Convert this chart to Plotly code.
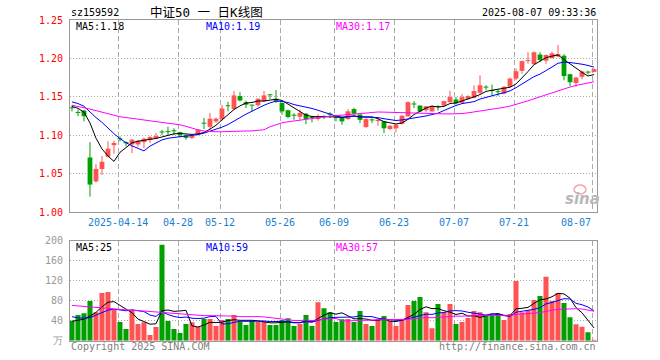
import plotly.graph_objects as go
import pandas as pd

# ---------------- data ----------------
open_ = [1.136, 1.130, 1.132, 1.071, 1.040, 1.056, 1.072, 1.087, 1.096, 1.091,
         1.088, 1.088, 1.091, 1.094, 1.096, 1.104, 1.1045, 1.1055, 1.104, 1.100,
         1.0965, 1.1015, 1.116, 1.111, 1.118, 1.121, 1.138, 1.134, 1.151, 1.143,
         1.139, 1.139, 1.144, 1.1525, 1.1475, 1.142, 1.1325, 1.126, 1.124, 1.128,
         1.1228, 1.121, 1.124, 1.1272, 1.1228, 1.1224, 1.121, 1.134, 1.127, 1.1105,
         1.1197, 1.1185, 1.118, 1.108, 1.109, 1.115, 1.1246, 1.1405, 1.1386, 1.1325,
         1.131, 1.1372, 1.1386, 1.143, 1.1465, 1.142, 1.1474, 1.1487, 1.1553, 1.1625,
         1.158, 1.1565, 1.1544, 1.163, 1.1737, 1.1838, 1.1965, 1.1925, 1.205, 1.197,
         1.2004, 1.2026, 1.2035, 1.1794, 1.168, 1.176, 1.182, 1.1825]
high = [1.139, 1.1334, 1.133, 1.091, 1.0627, 1.0728, 1.092, 1.0928, 1.0985, 1.092,
        1.095, 1.094, 1.0965, 1.099, 1.1029, 1.107, 1.111, 1.109, 1.1045, 1.101,
        1.1005, 1.1075, 1.1224, 1.129, 1.123, 1.1395, 1.1434, 1.1574, 1.156, 1.145,
        1.1395, 1.148, 1.1575, 1.153, 1.1588, 1.1425, 1.1333, 1.1285, 1.1333, 1.129,
        1.1254, 1.127, 1.126, 1.130, 1.1268, 1.123, 1.134, 1.1355, 1.127, 1.122,
        1.122, 1.1224, 1.1185, 1.113, 1.114, 1.126, 1.144, 1.1443, 1.139, 1.138,
        1.139, 1.139, 1.145, 1.158, 1.150, 1.1535, 1.152, 1.165, 1.178, 1.165,
        1.166, 1.160, 1.164, 1.175, 1.187, 1.197, 1.208, 1.209, 1.208, 1.205,
        1.2088, 1.2175, 1.2055, 1.180, 1.176, 1.184, 1.184, 1.187]
low = [1.131, 1.1247, 1.118, 1.020, 1.0383, 1.0483, 1.071, 1.0758, 1.092, 1.0855,
       1.0767, 1.085, 1.083, 1.0898, 1.0955, 1.100, 1.100, 1.100, 1.097, 1.094,
       1.095, 1.100, 1.1079, 1.1075, 1.116, 1.119, 1.1311, 1.1333, 1.144, 1.1354,
       1.131, 1.137, 1.1434, 1.147, 1.142, 1.1268, 1.122, 1.120, 1.120, 1.1145,
       1.1167, 1.119, 1.121, 1.1224, 1.118, 1.1136, 1.120, 1.127, 1.1158, 1.1098,
       1.116, 1.1123, 1.1026, 1.107, 1.1035, 1.114, 1.124, 1.1355, 1.130, 1.130,
       1.1305, 1.132, 1.137, 1.142, 1.140, 1.141, 1.146, 1.148, 1.154, 1.159,
       1.151, 1.151, 1.153, 1.162, 1.172, 1.180, 1.193, 1.1915, 1.195, 1.193,
       1.200, 1.2015, 1.1715, 1.164, 1.163, 1.1728, 1.179, 1.182]
close = [1.135, 1.129, 1.1247, 1.0357, 1.0562, 1.0654, 1.0824, 1.0898, 1.0945, 1.0895,
         1.0941, 1.0928, 1.0955, 1.0976, 1.099, 1.1035, 1.104, 1.105, 1.100, 1.0965,
         1.0995, 1.107, 1.115, 1.1215, 1.1215, 1.1346, 1.1377, 1.1518, 1.1452, 1.1398,
         1.1385, 1.1474, 1.1518, 1.152, 1.1443, 1.131, 1.1237, 1.1254, 1.129, 1.121,
         1.1224, 1.1237, 1.1237, 1.1268, 1.1224, 1.118, 1.1311, 1.128, 1.120, 1.121,
         1.1193, 1.119, 1.109, 1.1123, 1.1136, 1.1254, 1.143, 1.140, 1.131, 1.1377,
         1.1377, 1.1368, 1.1443, 1.1496, 1.1415, 1.1496, 1.151, 1.1575, 1.165, 1.162,
         1.1575, 1.156, 1.163, 1.1737, 1.1833, 1.1965, 1.1978, 1.208, 1.198, 1.2044,
         1.2066, 1.2057, 1.177, 1.169, 1.175, 1.183, 1.1815, 1.186]
volume = [40, 51.4, 54.7, 79.4, 56.7, 95.4, 97.4, 61.4, 37.4, 23.4,
          60, 33.4, 36.7, 11.4, 27.4, 191.4, 39.4, 23.4, 15.4, 33.4,
          36.7, 27.4, 43.4, 43.4, 29.4, 41.4, 43.4, 51.4, 38, 31.4,
          39.4, 38, 38, 31.4, 31.4, 41.4, 44.7, 29.4, 33.4, 51.4,
          29.4, 76.7, 64.7, 56.7, 37.4, 42.7, 43.4, 37.4, 59.4, 33.4,
          29.4, 43.4, 49.4, 39.4, 29.4, 43.4, 71.4, 79.4, 87.4, 56.7,
          24.7, 73.4, 56.7, 73.4, 33.4, 37.4, 45.4, 59.4, 56.7, 51.4,
          51.4, 52.7, 41.4, 53.4, 119.4, 56.7, 61.4, 81.4, 89.4, 127.4,
          79.4, 95.4, 75.4, 47, 33, 28, 17, 2]

# moving-average values before a full window exists
ma5_head = [1.1375, 1.135, 1.130, 1.116]
ma10_head = [1.1434, 1.1412, 1.1377, 1.1300, 1.1230, 1.1167, 1.1090, 1.1020, 1.0955]
ma30_head = [1.139, 1.1375, 1.136, 1.134, 1.132, 1.130, 1.1275, 1.1255, 1.1240, 1.1230,
             1.1220, 1.1210, 1.1200, 1.1190, 1.1180, 1.1170, 1.1160, 1.1150, 1.1135, 1.1115,
             1.1090, 1.1070, 1.1055, 1.1048, 1.1045, 1.1045, 1.1045, 1.1045, 1.1048]
vol_ma5_head = [38.7, 41, 43, 49]
vol_ma10_head = [48, 45.5, 45, 46, 51, 56.5, 61, 63, 61]
vol_ma30_head = [70.5, 69.5, 68.5, 67.5, 66.5, 65.5, 64, 62.5, 61.3, 61,
                 60.5, 60, 59.5, 58.5, 57.5, 56.5, 55.5, 54.5, 53, 52,
                 51, 50, 50, 50, 50, 50, 49.5, 49, 48]

tick_index = [8, 18, 25, 35, 44, 54, 64, 74, 87]
tick_labels = ["2025-04-14", "04-28", "05-12", "05-26", "06-09", "06-23", "07-07", "07-21", "08-07"]
price_ticks = [1.00, 1.05, 1.10, 1.15, 1.20, 1.25]
vol_ticks = [0, 40, 80, 120, 160, 200]
vol_tick_labels = ["万", "40", "80", "120", "160", "200"]
price_ma_labels = ["MA5:1.18", "MA10:1.19", "MA30:1.17"]
vol_ma_labels = ["MA5:25", "MA10:59", "MA30:57"]

# ---------------- styles ----------------
W, H = 660, 360
RED = "#ff5252"
GREEN = "#00a000"
MA_COLORS = ["#000000", "#0000ff", "#ff00ff"]
GRID = "#aaaaaa"
BORDER = "#999999"
MONO = "DejaVu Sans Mono, Liberation Mono, monospace"
TITLE_FONT = "DejaVu Sans Mono, Noto Sans CJK SC"
GRID_SHIFT = 0.33


def moving_average(values, window, head):
    s = pd.Series(values, dtype=float).rolling(window).mean().tolist()
    s[:len(head)] = head
    return s


n = len(close)
idx = list(range(n))
up = [c >= o for o, c in zip(open_, close)]
colors = [RED if u else GREEN for u in up]
body_base = [min(o, c) for o, c in zip(open_, close)]
body_h = [max(abs(c - o), 0.0013) for o, c in zip(open_, close)]

fig = go.Figure()

# wicks
for flag, col in ((True, RED), (False, GREEN)):
    xs, ys = [], []
    for i in idx:
        if up[i] == flag:
            xs += [i, i, None]
            ys += [low[i], high[i], None]
    fig.add_trace(go.Scatter(x=xs, y=ys, mode="lines", line=dict(color=col, width=1),
                             xaxis="x", yaxis="y", hoverinfo="skip"))

# bodies
fig.add_trace(go.Bar(x=idx, y=body_h, base=body_base, width=0.8,
                     marker=dict(color=colors, line=dict(width=0)), xaxis="x", yaxis="y"))

# price MAs
for win, head, col in ((5, ma5_head, MA_COLORS[0]), (10, ma10_head, MA_COLORS[1]),
                       (30, ma30_head, MA_COLORS[2])):
    fig.add_trace(go.Scatter(x=idx, y=moving_average(close, win, head), mode="lines",
                             line=dict(color=col, width=1), xaxis="x", yaxis="y"))

# volume
fig.add_trace(go.Bar(x=idx, y=volume, width=0.84,
                     marker=dict(color=colors, line=dict(width=0)), xaxis="x2", yaxis="y2"))
for win, head, col in ((5, vol_ma5_head, MA_COLORS[0]), (10, vol_ma10_head, MA_COLORS[1]),
                       (30, vol_ma30_head, MA_COLORS[2])):
    fig.add_trace(go.Scatter(x=idx, y=moving_average(volume, win, head), mode="lines",
                             line=dict(color=col, width=1), xaxis="x2", yaxis="y2"))

x_dom = [70 / W, 597 / W]
x_range = [-0.33, n - 0.5]
grid_x = [i - GRID_SHIFT for i in tick_index]

common_x = dict(range=x_range, domain=x_dom, tickvals=grid_x, showticklabels=False,
                showgrid=True, gridcolor=GRID, griddash="5px,3px", gridwidth=1,
                showline=True, mirror=True, linecolor=BORDER, linewidth=1,
                zeroline=False, ticks="", fixedrange=True)

fig.update_layout(
    width=W, height=H, template="none",
    margin=dict(l=0, r=0, t=0, b=0),
    paper_bgcolor="white", plot_bgcolor="white",
    showlegend=False, barmode="overlay", hovermode=False,
    font=dict(family=MONO, size=10, color="#000"),
    xaxis=dict(anchor="y", **common_x),
    xaxis2=dict(anchor="y2", **common_x),
    yaxis=dict(domain=[1 - 212 / H, 1 - 20 / H], range=[1.0, 1.25], anchor="x",
               tickvals=price_ticks, ticktext=["%.2f" % v for v in price_ticks],
               tickfont=dict(color="#ff0000", family=MONO, size=10),
               showgrid=True, gridcolor=GRID, griddash="1px,2px", gridwidth=1,
               showline=True, mirror=True, linecolor=BORDER, linewidth=1,
               zeroline=False, ticks="", ticklabelstandoff=4, automargin=False,
               fixedrange=True),
    yaxis2=dict(domain=[1 - 340.7 / H, 1 - 240.5 / H], range=[0, 200], anchor="x2",
                tickvals=vol_ticks, ticktext=vol_tick_labels,
                tickfont=dict(color="#999999", family=MONO, size=10),
                showgrid=True, gridcolor=GRID, griddash="1px,2px", gridwidth=1,
                showline=True, mirror=True, linecolor=BORDER, linewidth=1,
                zeroline=False, ticks="", ticklabelstandoff=4, automargin=False,
                fixedrange=True),
)

ann = []
# x tick labels (last one kept inside the frame)
for k, (i, lab) in enumerate(zip(tick_index, tick_labels)):
    last = k == len(tick_index) - 1
    ann.append(dict(x=i - GRID_SHIFT + (0.2 if last else 0), y=1.0, xref="x", yref="y",
                    text=lab, showarrow=False, xanchor="right" if last else "center",
                    yanchor="top", yshift=-3,
                    font=dict(color="#1a7fd0", family=MONO, size=10)))


def px_text(x, y, text, color="#000", anchor="left", size=10, family=MONO):
    ann.append(dict(x=x / W, y=1 - y / H, xref="paper", yref="paper", text=text,
                    showarrow=False, xanchor=anchor, yanchor="middle",
                    font=dict(color=color, family=family, size=size)))


px_text(69, 12.5, "sz159592")
px_text(206, 12.5, "中证50 一 日K线图", anchor="center", size=12.5, family=TITLE_FONT)
px_text(598, 12.5, "2025-08-07 09:33:36", anchor="right")
for xpos, lab, col in zip((74, 204, 334), price_ma_labels, MA_COLORS):
    px_text(xpos, 26.5, lab, color=col)
for xpos, lab, col in zip((74, 204, 334), vol_ma_labels, MA_COLORS):
    px_text(xpos, 247, lab, color=col)
px_text(69, 346, "Copyright 2025 SINA.COM", color="#808080")
px_text(598, 346, "http://finance.sina.com.cn", color="#808080", anchor="right")
px_text(582, 199, "<b><i>sina</i></b>", color="#b8b8b8", anchor="center", size=15,
        family="DejaVu Sans")
fig.update_layout(annotations=ann)

fig.add_shape(type="circle", xref="paper", yref="paper",
              x0=574 / W, x1=586 / W, y0=1 - 194 / H, y1=1 - 185 / H,
              line=dict(color="#f3a5a5", width=1.5))

fig.write_html("out.html", config={"displayModeBar": False, "staticPlot": True},
               post_script="document.body.style.margin='0px';document.body.style.overflow='hidden';")
